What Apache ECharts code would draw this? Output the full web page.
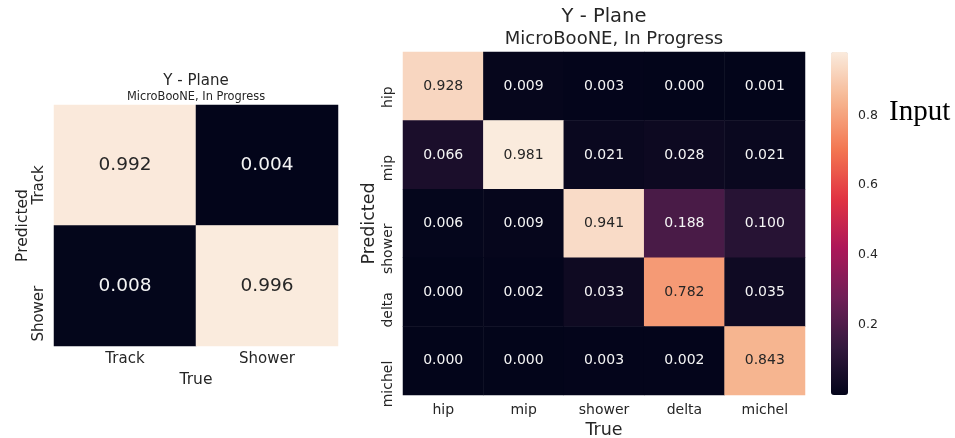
<!DOCTYPE html>
<html>
<head>
<meta charset="utf-8">
<script src="https://cdn.jsdelivr.net/npm/echarts@6/dist/echarts.min.js"></script>
<style>
html,body{margin:0;padding:0;background:#fff;}
#c{width:955px;height:438px;}
</style>
</head>
<body>
<div id="c"></div>
<script>
// ---- data ----
var leftCats = ['Track', 'Shower'];
var leftTrack = [0.992, 0.004];   // predicted Track, true Track/Shower
var leftShower = [0.008, 0.996];  // predicted Shower
var rightCats = ['hip', 'mip', 'shower', 'delta', 'michel'];
var predHip = [0.928, 0.009, 0.003, 0.000, 0.001];
var predMip = [0.066, 0.981, 0.021, 0.028, 0.021];
var predShower = [0.006, 0.009, 0.941, 0.188, 0.100];
var predDelta = [0.000, 0.002, 0.033, 0.782, 0.035];
var predMichel = [0.000, 0.000, 0.003, 0.002, 0.843];
var colorbarTicks = [0.2, 0.4, 0.6, 0.8];

var rocket = ['#03051a', '#35193e', '#701f57', '#ad1759', '#e13342', '#f37651', '#f6b48f', '#faebdd'];
var FONT = 'DejaVu Sans';
var TXT = '#262626';

function build(rows, vmin, vmax) {
  var out = [];
  rows.forEach(function (row, r) {
    row.forEach(function (v, c) {
      var n = (v - vmin) / (vmax - vmin);
      out.push({ value: [c, r, v], label: { color: n > 0.75 ? TXT : '#f5f5f5' } });
    });
  });
  return out;
}
var leftRows = [leftTrack, leftShower];
var rightRows = [predHip, predMip, predShower, predDelta, predMichel];
var lmin = Math.min.apply(null, leftTrack.concat(leftShower));
var lmax = Math.max.apply(null, leftTrack.concat(leftShower));
var rAll = [].concat(predHip, predMip, predShower, predDelta, predMichel);
var rmin = Math.min.apply(null, rAll);
var rmax = Math.max.apply(null, rAll);

var chart = echarts.init(document.getElementById('c'), null, { renderer: 'canvas' });
chart.setOption({
  animation: false,
  textStyle: { fontFamily: FONT },
  grid: [
    { left: 54, top: 105, width: 284, height: 241, outerBoundsMode: 'none', containLabel: false },
    { left: 403, top: 52, width: 402, height: 343, outerBoundsMode: 'none', containLabel: false },
    { left: 831, top: 52, width: 17, height: 343, outerBoundsMode: 'none', containLabel: false }
  ],
  xAxis: [
    { type: 'category', gridIndex: 0, data: leftCats, axisLine: { show: false }, axisTick: { show: false },
      axisLabel: { color: TXT, fontSize: 15, margin: 6, fontFamily: FONT },
      name: 'True', nameLocation: 'middle', nameGap: 23, nameTextStyle: { color: TXT, fontSize: 15.5, fontFamily: FONT },
      splitLine: { show: false } },
    { type: 'category', gridIndex: 1, data: rightCats, axisLine: { show: false }, axisTick: { show: false },
      axisLabel: { color: TXT, fontSize: 14, margin: 8, fontFamily: FONT },
      name: 'True', nameLocation: 'middle', nameGap: 24, nameTextStyle: { color: TXT, fontSize: 17.5, fontFamily: FONT },
      splitLine: { show: false } },
    { type: 'value', gridIndex: 2, show: false, min: 0, max: 1 }
  ],
  yAxis: [
    { type: 'category', gridIndex: 0, data: leftCats, inverse: true, axisLine: { show: false }, axisTick: { show: false },
      axisLabel: { color: TXT, fontSize: 15, margin: 7, rotate: 90, align: 'right', verticalAlign: 'bottom', fontFamily: FONT },
      name: 'Predicted', nameLocation: 'middle', nameGap: 22, nameTextStyle: { color: TXT, fontSize: 15.5, fontFamily: FONT },
      splitLine: { show: false } },
    { type: 'category', gridIndex: 1, data: rightCats, inverse: true, axisLine: { show: false }, axisTick: { show: false },
      axisLabel: { color: TXT, fontSize: 14, margin: 8, rotate: 90, align: 'right', verticalAlign: 'bottom', fontFamily: FONT },
      name: 'Predicted', nameLocation: 'middle', nameGap: 25, nameTextStyle: { color: TXT, fontSize: 17.5, fontFamily: FONT },
      splitLine: { show: false } },
    { type: 'value', gridIndex: 2, position: 'right', min: rmin, max: rmax,
      axisLine: { show: false },
      axisTick: { show: true, length: 4, lineStyle: { color: TXT, width: 1 }, customValues: colorbarTicks },
      axisLabel: { color: TXT, fontSize: 12.5, margin: 10, fontFamily: FONT, customValues: colorbarTicks,
        formatter: function (v) { return v.toFixed(1); } },
      splitLine: { show: false } }
  ],
  visualMap: [
    { type: 'continuous', seriesIndex: 0, min: lmin, max: lmax, show: false, inRange: { color: rocket } },
    { type: 'continuous', seriesIndex: 1, min: rmin, max: rmax, show: true, calculable: false,
      left: 831, top: 52, itemWidth: 17, itemHeight: 343, padding: 0, text: null, showLabel: false,
      hoverLink: false, inRange: { color: rocket } }
  ],
  series: [
    { type: 'heatmap', xAxisIndex: 0, yAxisIndex: 0, data: build(leftRows, lmin, lmax),
      label: { show: true, fontSize: 18.5, fontFamily: FONT, formatter: function (p) { return p.value[2].toFixed(3); } },
      emphasis: { disabled: true } },
    { type: 'heatmap', xAxisIndex: 1, yAxisIndex: 1, data: build(rightRows, rmin, rmax),
      label: { show: true, fontSize: 14, fontFamily: FONT, formatter: function (p) { return p.value[2].toFixed(3); } },
      emphasis: { disabled: true } }
  ],
  graphic: [
    { type: 'text', x: 196, y: 81, style: { text: 'Y - Plane', fill: TXT, font: '15px "DejaVu Sans"', textAlign: 'center', textVerticalAlign: 'middle' } },
    { type: 'text', x: 196, y: 97, style: { text: 'MicroBooNE, In Progress', fill: TXT, font: '11.4px "DejaVu Sans"', textAlign: 'center', textVerticalAlign: 'middle' } },
    { type: 'text', x: 604, y: 17, style: { text: 'Y - Plane', fill: TXT, font: '19.5px "DejaVu Sans"', textAlign: 'center', textVerticalAlign: 'middle' } },
    { type: 'text', x: 614, y: 39, style: { text: 'MicroBooNE, In Progress', fill: TXT, font: '18px "DejaVu Sans"', textAlign: 'center', textVerticalAlign: 'middle' } },
    { type: 'text', x: 889, y: 112, style: { text: 'Input', fill: '#000', font: '29px "Liberation Serif"', textAlign: 'left', textVerticalAlign: 'middle' } }
  ]
});
</script>
</body>
</html>
